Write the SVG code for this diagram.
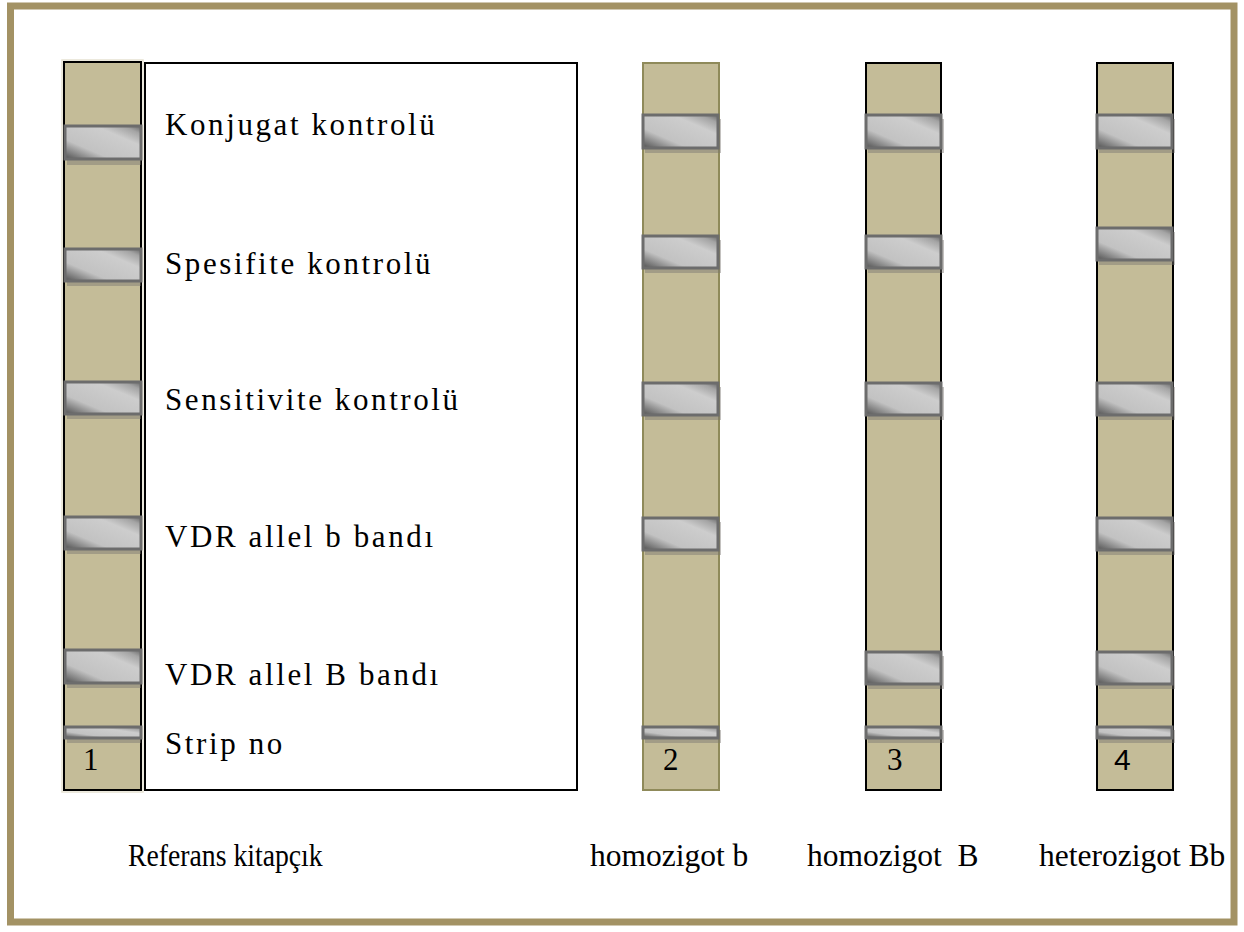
<svg xmlns="http://www.w3.org/2000/svg" width="1244" height="932" viewBox="0 0 1244 932">
  <defs>
    <linearGradient id="bandGrad" x1="0" y1="1" x2="1" y2="0">
      <stop offset="0" stop-color="#505050"/>
      <stop offset="0.3" stop-color="#c2c2c2"/>
      <stop offset="0.7" stop-color="#cdcdcd"/>
      <stop offset="0.88" stop-color="#a4a4a4"/>
      <stop offset="1" stop-color="#666666"/>
    </linearGradient>
  </defs>
  <style>
    .frame { fill: none; stroke: #a39264; stroke-width: 7; }
    .strip { fill: #c4bc98; stroke: #000; stroke-width: 2; }
    .strip-olive { fill: #c4bc98; stroke: #8f8a5a; stroke-width: 2; }
    .halo { fill: none; stroke: #e6e2d2; stroke-width: 1.5; }
    .shadow { fill: #7a7670; opacity: 0.45; }
    .band { fill: url(#bandGrad); stroke: #6c6c6c; stroke-width: 3; }
    .box { fill: #fff; stroke: #000; stroke-width: 2; }
    .legend { font-family: "Liberation Serif", "Times New Roman", serif; font-size: 31px; letter-spacing: 2.6px; fill: #000; }
    .num { font-family: "Liberation Serif", "Times New Roman", serif; font-size: 31px; fill: #000; }
    .num-sans { font-family: "Liberation Sans", Arial, sans-serif; font-size: 30px; fill: #000; }
    .caption { font-family: "Liberation Serif", "Times New Roman", serif; font-size: 31.5px; fill: #000; }
  </style>

  <rect class="frame" x="10.5" y="6" width="1223.5" height="916"/>

  <!-- reference strip with legend box -->
  <g id="strip1">
    <rect class="halo" x="62" y="60" width="81" height="732"/>
    <rect class="strip" x="64" y="62" width="77" height="728"/>
    <rect class="shadow" x="67" y="130" width="74" height="35"/>
    <rect class="band" x="65" y="126" width="76" height="33"/>
    <rect class="shadow" x="67" y="252" width="74" height="34"/>
    <rect class="band" x="65" y="249" width="76" height="32"/>
    <rect class="shadow" x="67" y="386" width="74" height="33"/>
    <rect class="band" x="65" y="382" width="76" height="32"/>
    <rect class="shadow" x="67" y="521" width="74" height="33"/>
    <rect class="band" x="65" y="517" width="76" height="32"/>
    <rect class="shadow" x="67" y="654" width="74" height="34"/>
    <rect class="band" x="65" y="650" width="76" height="33"/>
    <rect class="shadow" x="67" y="730" width="74" height="13"/>
    <rect class="band" x="65" y="727" width="76" height="11"/>
    <text class="num" x="83" y="770">1</text>
  </g>

  <g id="legend">
    <rect class="box" x="145" y="63" width="432" height="727"/>
    <text class="legend" x="165" y="135">Konjugat kontrolü</text>
    <text class="legend" x="165" y="274">Spesifite kontrolü</text>
    <text class="legend" x="165" y="410">Sensitivite kontrolü</text>
    <text class="legend" x="165" y="547">VDR allel b bandı</text>
    <text class="legend" x="165" y="685">VDR allel B bandı</text>
    <text class="legend" x="165" y="754">Strip no</text>
  </g>

  <!-- homozygous b -->
  <g id="strip2">
    <rect class="strip-olive" x="643" y="63" width="76" height="727"/>
    <rect class="shadow" x="645" y="119" width="76" height="34"/>
    <rect class="band" x="643" y="115" width="75" height="33"/>
    <rect class="shadow" x="645" y="240" width="76" height="33"/>
    <rect class="band" x="643" y="236" width="75" height="32"/>
    <rect class="shadow" x="645" y="387" width="76" height="33"/>
    <rect class="band" x="643" y="383" width="75" height="32"/>
    <rect class="shadow" x="645" y="522" width="76" height="33"/>
    <rect class="band" x="643" y="518" width="75" height="32"/>
    <rect class="shadow" x="645" y="730" width="76" height="13"/>
    <rect class="band" x="643" y="727" width="75" height="11"/>
    <text class="num" x="663" y="770">2</text>
  </g>

  <!-- homozygous B -->
  <g id="strip3">
    <rect class="strip" x="866" y="63" width="75" height="727"/>
    <rect class="shadow" x="868" y="119" width="76" height="34"/>
    <rect class="band" x="866" y="115" width="75" height="33"/>
    <rect class="shadow" x="868" y="240" width="76" height="33"/>
    <rect class="band" x="866" y="236" width="75" height="32"/>
    <rect class="shadow" x="868" y="387" width="76" height="33"/>
    <rect class="band" x="866" y="383" width="75" height="32"/>
    <rect class="shadow" x="868" y="656" width="76" height="33"/>
    <rect class="band" x="866" y="652" width="75" height="32"/>
    <rect class="shadow" x="868" y="730" width="76" height="13"/>
    <rect class="band" x="866" y="727" width="75" height="11"/>
    <text class="num" x="887" y="770">3</text>
  </g>

  <!-- heterozygous Bb -->
  <g id="strip4">
    <rect class="strip" x="1097" y="63" width="76" height="727"/>
    <rect class="shadow" x="1099" y="119" width="76" height="34"/>
    <rect class="band" x="1097" y="115" width="75" height="33"/>
    <rect class="shadow" x="1099" y="232" width="76" height="33"/>
    <rect class="band" x="1097" y="228" width="75" height="32"/>
    <rect class="shadow" x="1099" y="387" width="76" height="33"/>
    <rect class="band" x="1097" y="383" width="75" height="32"/>
    <rect class="shadow" x="1099" y="522" width="76" height="33"/>
    <rect class="band" x="1097" y="518" width="75" height="32"/>
    <rect class="shadow" x="1099" y="656" width="76" height="33"/>
    <rect class="band" x="1097" y="652" width="75" height="32"/>
    <rect class="shadow" x="1099" y="730" width="76" height="13"/>
    <rect class="band" x="1097" y="727" width="75" height="11"/>
    <text class="num-sans" x="1114" y="770">4</text>
  </g>

  <g id="captions">
    <text class="caption" x="128" y="866" transform="translate(128 866) scale(0.88 1) translate(-128 -866)">Referans kitapçık</text>
    <text class="caption" x="590" y="866">homozigot b</text>
    <text class="caption" x="807" y="866" xml:space="preserve">homozigot  B</text>
    <text class="caption" x="1039" y="866">heterozigot Bb</text>
  </g>
</svg>
